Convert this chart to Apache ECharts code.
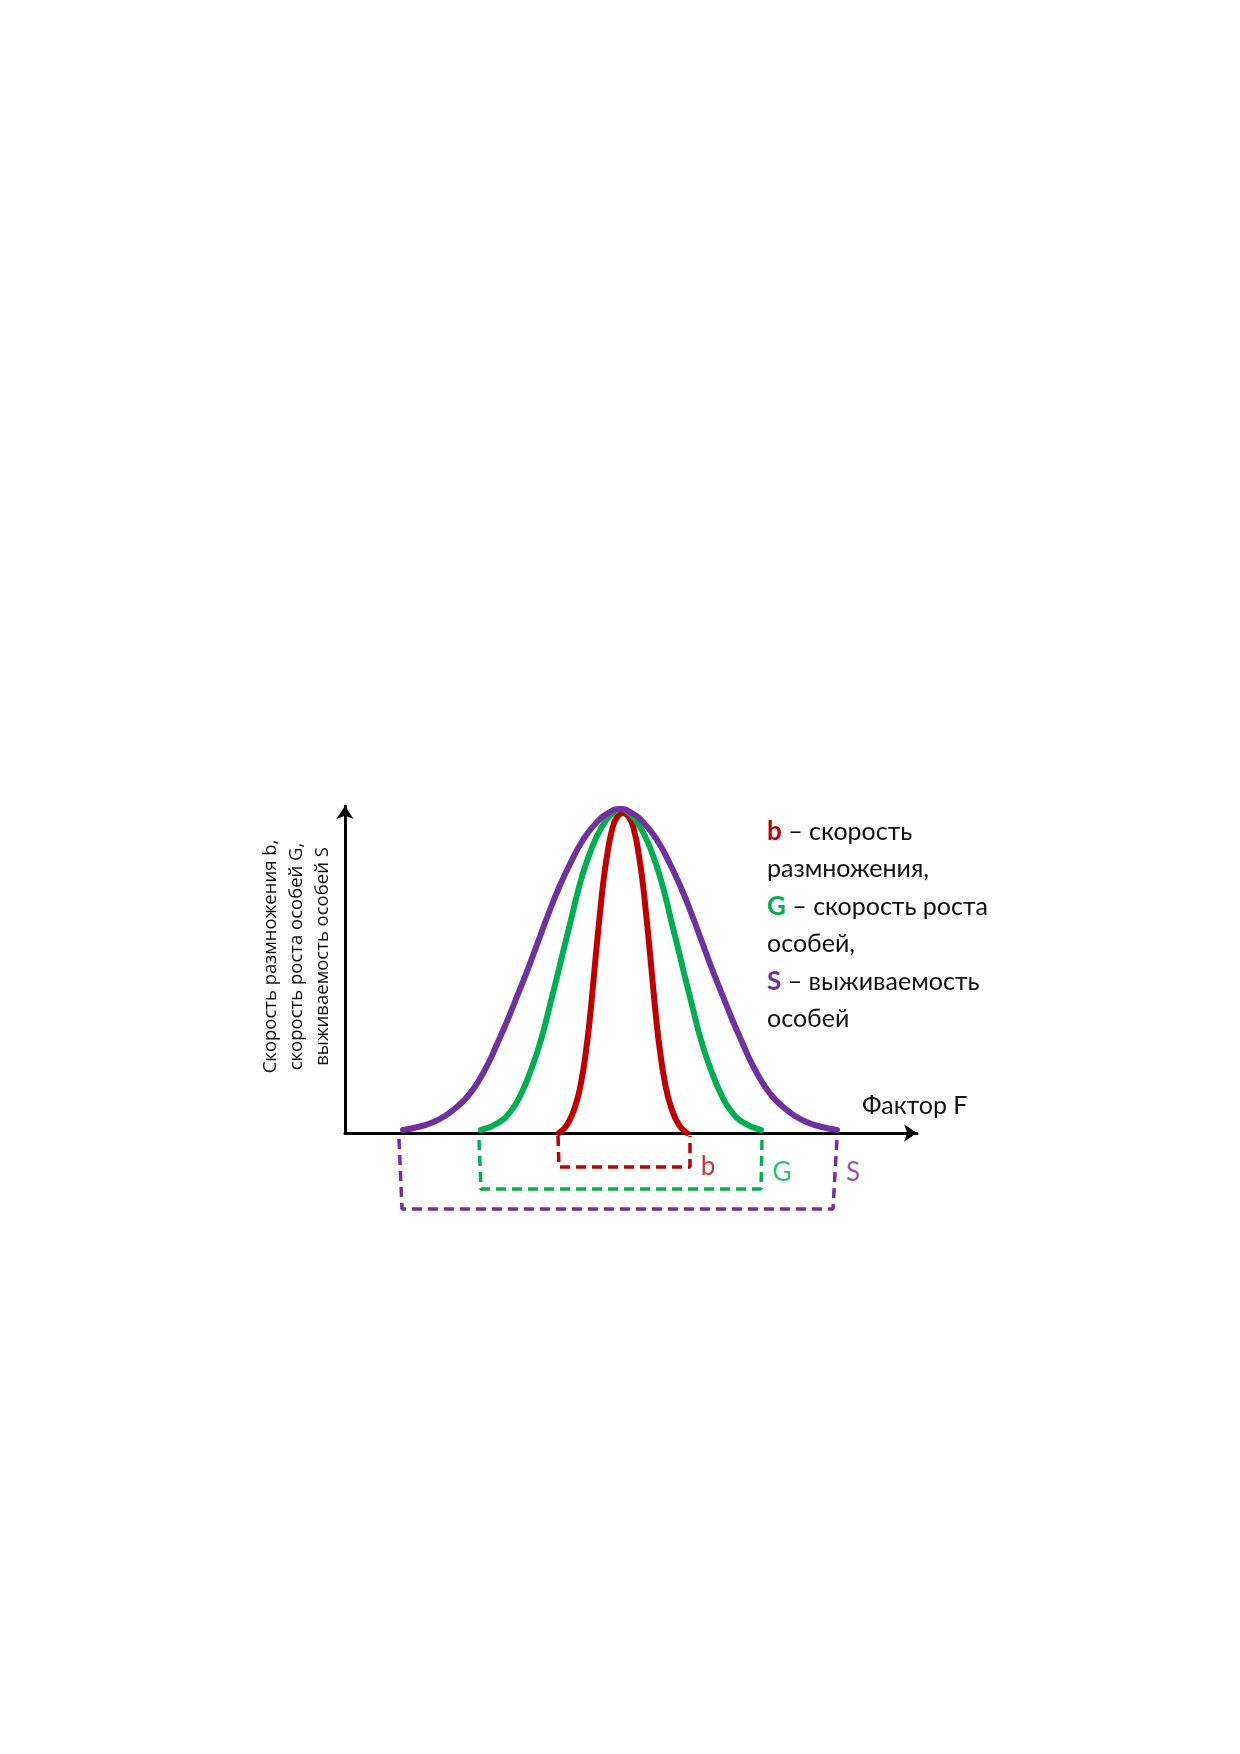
<!DOCTYPE html>
<html>
<head>
    <meta http-equiv="Content-Type" content="text/html; charset=utf-8" />
    <style type="text/css">
        body, html, #main {width: 100%; height: 100%; overflow: hidden; margin: 0; background: #fff;}
    </style>
    <title>Factor F</title>
</head>
<body>
<div id="main"></div>
<script src="https://cdn.jsdelivr.net/npm/echarts@6/dist/echarts.min.js"></script>
<script type="text/javascript">
    // curves: [factor, value] (origin = axis corner)
    var curveB = [[214,0],[222,8],[230,26],[236,50],[241,82],[245,116],[249,158],[252,190],[255,220],[258,248],[262,277],[267,303],[272,316],[278,320],
                  [284,316],[289,303],[294,277],[298,248],[301,220],[304,190],[307,158],[311,116],[315,82],[320,50],[326,26],[334,8],[342,0]];
    var curveG = [[136,3],[153,10],[166,22],[176,39],[186,63],[196,93],[206,132],[213,160],[219,185],[226,213],[233,242],[242,272],[252,297],[262,314],[269,321],[276,324],
                  [283,321],[290,314],[300,297],[310,272],[319,242],[326,213],[333,185],[339,160],[346,132],[356,93],[366,63],[376,39],[386,22],[399,10],[416,3]];
    var curveS = [[58,3],[73,6],[86,10],[100,17],[113,27],[123,37],[133,51],[143,69],[153,91],[163,114],[173,139],[183,164],[193,191],[203,218],[213,243],[225,269],[238,293],[252,311],[265,321],[275,324],
                  [285,321],[298,311],[312,293],[325,269],[337,243],[347,218],[357,191],[367,164],[377,139],[387,114],[397,91],[407,69],[417,51],[427,37],[437,27],[450,17],[464,10],[477,6],[492,3]];

    // ranges under the axis: [factor, depth below axis]
    var rangeB = [[213,3],[214,34],[345,34],[345,3]];
    var rangeG = [[134,7],[136,56],[416,56],[417,7]];
    var rangeS = [[54,6],[57,76],[488,76],[492,6]];

    var red = '#C00000', green = '#00B050', purple = '#7030A0';
    var txtFont = 'Lato';

    var myChart = echarts.init(document.getElementById('main'));

    function curve(data, color) {
        return {
            type: 'line', xAxisIndex: 0, yAxisIndex: 0,
            data: data, smooth: 0.5, showSymbol: false, symbol: 'none',
            lineStyle: {color: color, width: 6, cap: 'round'}
        };
    }
    function range(data, color) {
        return {
            type: 'line', xAxisIndex: 1, yAxisIndex: 1,
            data: data, showSymbol: false, symbol: 'none',
            lineStyle: {color: color, width: 3.5, type: [10, 6]}
        };
    }

    var axisLine = {
        show: true,
        symbol: ['none', 'arrow'],
        symbolSize: [13, 13],
        lineStyle: {color: '#000', width: 3}
    };

    myChart.setOption({
        animation: false,
        title: [{
            left: 767, top: 813, padding: 0,
            text: '{b|b} – скорость\nразмножения,\n{g|G} – скорость роста\nособей,\n{s|S} – выживаемость\nособей',
            textStyle: {
                fontFamily: txtFont, fontSize: 25, lineHeight: 37.5, fontWeight: 'normal', color: '#111',
                rich: {
                    b: {color: red, fontWeight: 'bold', fontFamily: txtFont, fontSize: 26, lineHeight: 37.5},
                    g: {color: green, fontWeight: 'bold', fontFamily: txtFont, fontSize: 26, lineHeight: 37.5},
                    s: {color: purple, fontWeight: 'bold', fontFamily: txtFont, fontSize: 26, lineHeight: 37.5}
                }
            }
        }, {
            left: 862, top: 1091, padding: 0,
            text: 'Фактор F',
            textStyle: {fontFamily: txtFont, fontSize: 25, lineHeight: 30, fontWeight: 'normal', color: '#111'}
        }],
        grid: [
            {left: 345, top: 806, width: 572, height: 327},
            {left: 345, top: 1133, width: 572, height: 100}
        ],
        xAxis: [{
            gridIndex: 0, type: 'value', min: 0, max: 572,
            axisLine: axisLine, axisTick: {show: false}, axisLabel: {show: false}, splitLine: {show: false}
        }, {
            gridIndex: 1, type: 'value', min: 0, max: 572, show: false
        }],
        yAxis: [{
            gridIndex: 0, type: 'value', min: 0, max: 327,
            axisLine: axisLine, axisTick: {show: false}, axisLabel: {show: false}, splitLine: {show: false},
            name: 'Скорость размножения b,\nскорость роста особей G,\nвыживаемость особей S',
            nameLocation: 'middle', nameRotate: 90, nameGap: 9,
            nameTextStyle: {fontFamily: 'Open Sans', fontSize: 18.5, lineHeight: 26, color: '#111', padding: [0, 0, 0, 26]}
        }, {
            gridIndex: 1, type: 'value', min: 0, max: 100, inverse: true, show: false
        }],
        series: [
            curve(curveB, red),
            curve(curveG, green),
            curve(curveS, purple),
            range(rangeB, red),
            range(rangeG, green),
            range(rangeS, purple),
            {
                type: 'scatter', xAxisIndex: 1, yAxisIndex: 1, symbolSize: 0,
                label: {
                    show: true, position: 'inside', formatter: '{b}',
                    fontFamily: txtFont, fontSize: 26
                },
                data: [
                    {name: 'b', value: [363, 34], label: {color: red}},
                    {name: 'G', value: [437, 40], label: {color: green}},
                    {name: 'S', value: [508, 40], label: {color: purple}}
                ]
            }
        ]
    });
</script>
</body>
</html>
